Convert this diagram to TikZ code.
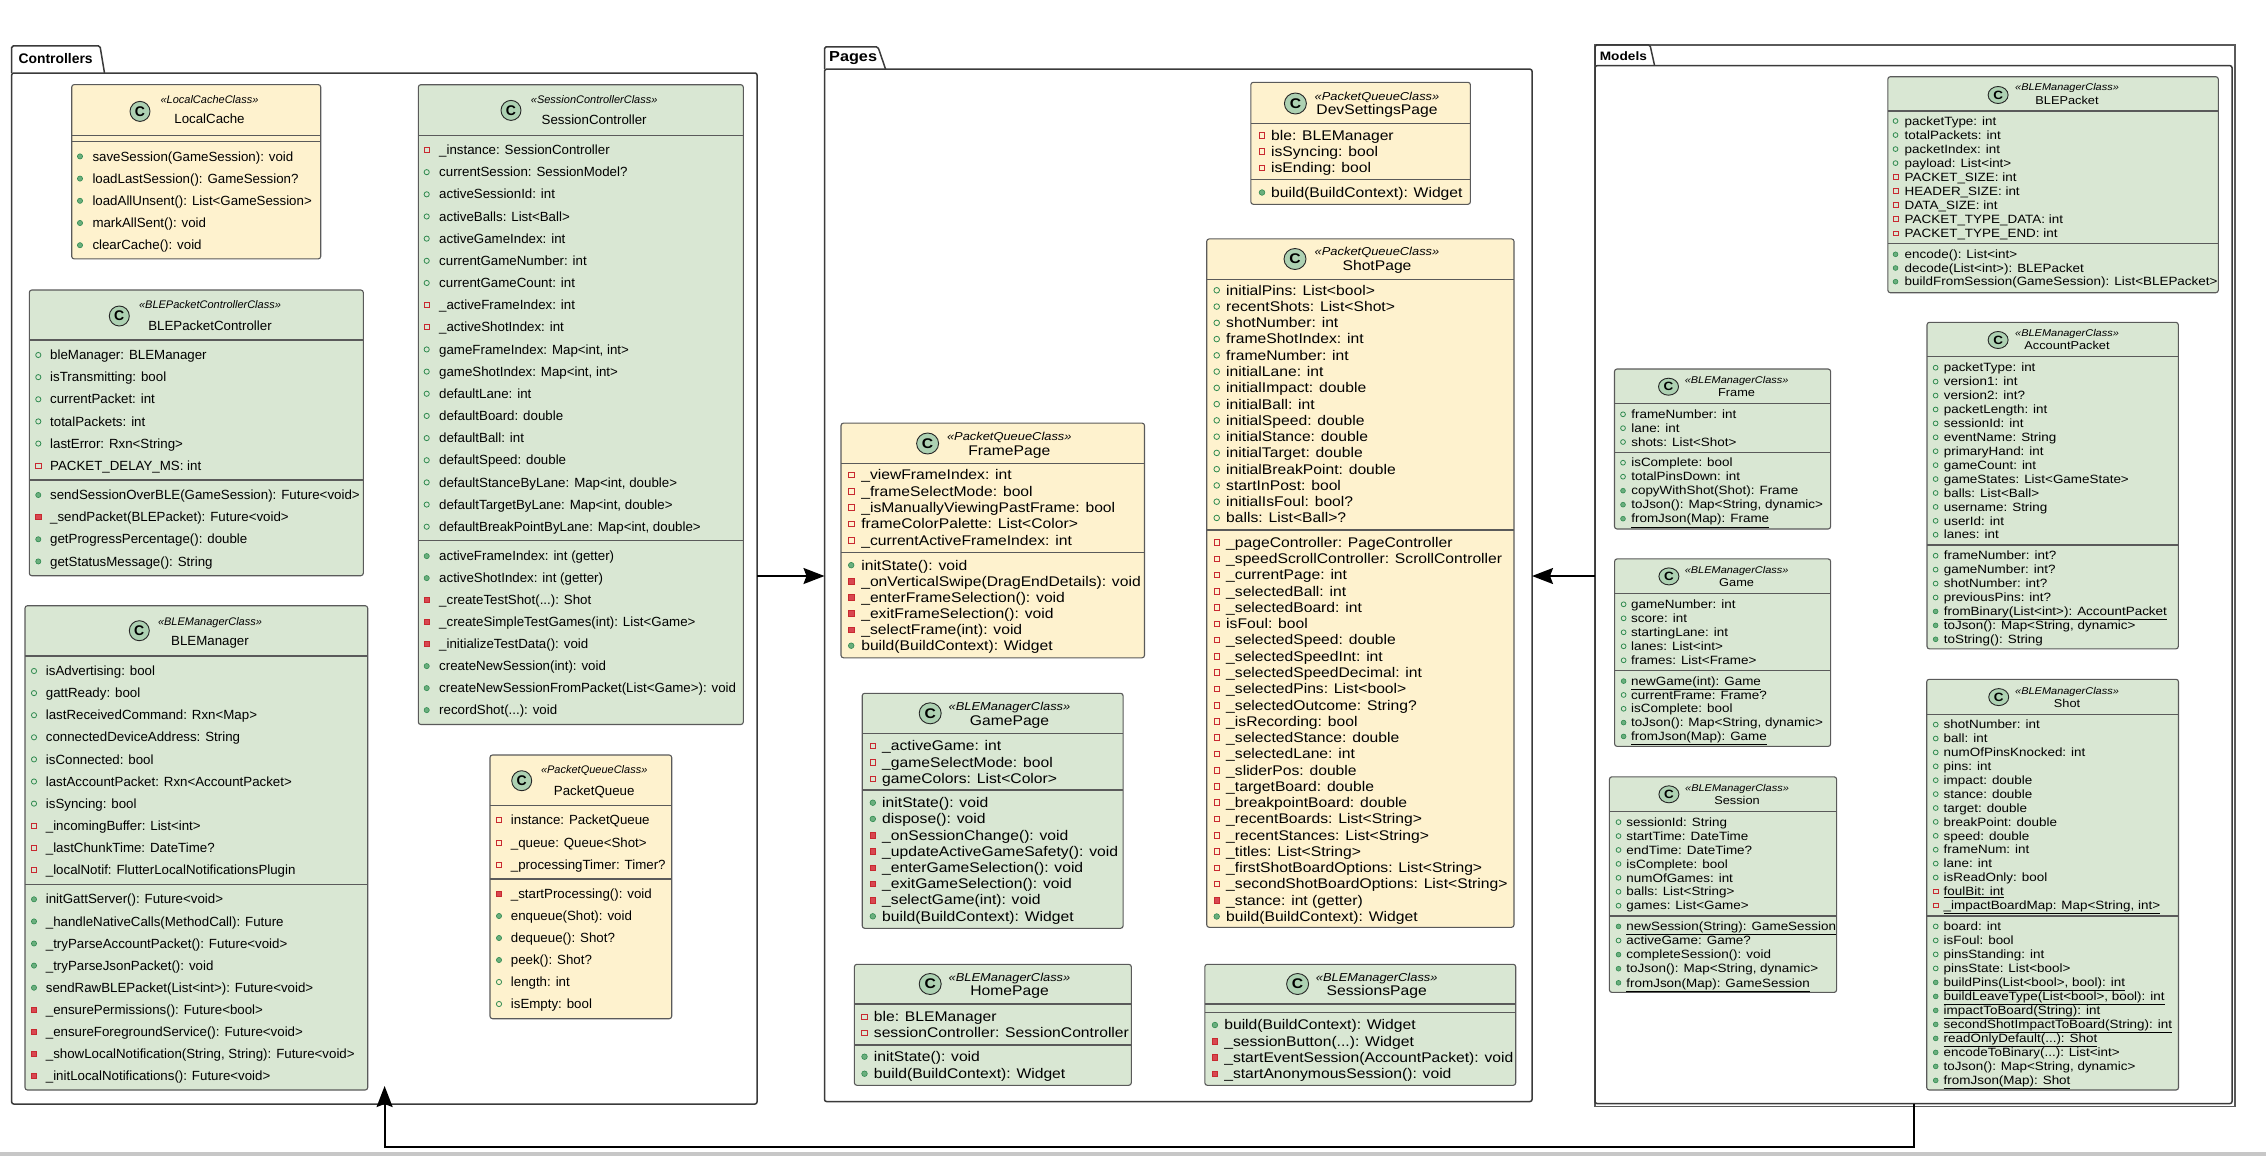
\documentclass[tikz,border=0pt]{standalone}
\usepackage{fontspec}
\setmainfont{Liberation Sans}
\newfontfamily\wf[FakeStretch=1.12]{Liberation Sans}
\usetikzlibrary{arrows.meta}
\definecolor{yel}{HTML}{FEF2CE}
\definecolor{grn}{HTML}{D9E7D3}
\definecolor{boxln}{HTML}{5A5A5A}
\definecolor{pkgln}{HTML}{3A3A3A}
\definecolor{spotfill}{HTML}{ADD1B2}
\definecolor{pubd}{HTML}{2F8A4F}
\definecolor{pubf}{HTML}{6BAF7E}
\definecolor{privd}{HTML}{C82930}
\definecolor{privf}{HTML}{D84750}
\newcounter{mc}
\tikzset{
  cboxst/.style={draw=boxln, line width=1.1pt, rounded corners=2.5pt, inner sep=0pt, outer sep=0pt},
  pkgbox/.style={draw=pkgln, line width=1.5pt, rounded corners=2pt, inner sep=0pt, outer sep=0pt},
  tabline/.style={draw=pkgln, line width=1.5pt, rounded corners=1.5pt},
  tablbl/.style={anchor=west, inner sep=0pt},
  sepl/.style={draw=boxln, line width=1.1pt},
  spot/.style={draw=black!85, fill=spotfill, line width=0.9pt},
  hd/.style={inner sep=0pt, text height=\mth, text depth=\mtd},
  mtext/.style={anchor=west, inner sep=0pt, text height=\mth, text depth=\mtd},
  ipo/.style={draw=pubd, line width=0.8pt},
  ipf/.style={draw=pubd, fill=pubf, line width=0.6pt},
  iro/.style={draw=privd, line width=0.8pt},
  irf/.style={draw=privd, fill=privf, line width=0.6pt},
  arr/.style={draw=black, line width=1.8pt, -{Stealth[length=21pt,width=16pt,inset=3pt]}},
}
\newcommand\umlbox[6]{%
  \pgfmathsetmacro\qcw{#5-#3}\pgfmathsetmacro\qch{#6-#4}%
  \node[cboxst, fill=#2, minimum width=\qcw pt, minimum height=\qch pt, anchor=north west] (#1) at (#3,#4) {};%
  \xdef\cxa{#3}\xdef\cxb{#5}}
\newcommand\csep[1]{\draw[sepl] (\cxa,#1) -- (\cxb,#1);}
\newcommand\chead[8]{%
  \draw[spot] (#2,#3) ellipse[x radius=\crx pt, y radius=\cry pt];%
  \node[inner sep=0pt, font=\Cfnt] (#1c) at (#2,#3) {C};%
  \node[hd, font=\sfnt] (#1s) at (#4,#5) {«#6»};%
  \node[hd, font=\nfnt] (#1n) at (#4,#7) {#8};}
\newcommand\memstart[4]{\xdef\mix{#1}\xdef\mtx{#2}\xdef\my{#3}\xdef\mdy{#4}}
\newcommand\icpo{\draw[ipo] (\mix,\my) circle[radius=\irad pt];}
\newcommand\icpf{\draw[ipf] (\mix,\my) circle[radius=\irad pt];}
\newcommand\qsq{\pgfmathsetmacro\qxa{\mix-\isz}\pgfmathsetmacro\qxb{\mix+\isz}\pgfmathsetmacro\qya{\my-\isz}\pgfmathsetmacro\qyb{\my+\isz}}
\newcommand\icro{\qsq\draw[iro] (\qxa,\qya) rectangle (\qxb,\qyb);}
\newcommand\icrf{\qsq\draw[irf] (\qxa,\qya) rectangle (\qxb,\qyb);}
\newcommand\mem[2]{%
  \stepcounter{mc}%
  \csname ic#1\endcsname
  \node[mtext, font=\mfnt] (m\arabic{mc}) at (\mtx,\my) {#2};%
  \pgfmathsetmacro\qty{\my+\mdy}\xdef\my{\qty}}
\begin{document}
\begin{tikzpicture}[x=1pt,y=-1pt]
\useasboundingbox (0,0) rectangle (2266,1156);
\fill[black!22] (0,1151.7) rectangle (2266,1156);

% ---------------- packages ----------------
\node[pkgbox, minimum width=745.3pt, minimum height=1031pt, anchor=north west] (ctrl) at (11.7,73) {};
\draw[tabline] (11.7,73) -- (11.7,46) -- (100,46) -- (104.5,73);
\node[tablbl, font=\fontsize{13.9}{16}\selectfont\bfseries] (ctrlL) at (18.3,58.6) {Controllers};

\node[pkgbox, minimum width=707.5pt, minimum height=1032.3pt, anchor=north west] (pages) at (824.5,69.2) {};
\draw[tabline] (824.5,69.2) -- (824.5,47) -- (878,47) -- (885.6,69.2);
\node[tablbl, font=\wf\fontsize{14.5}{16}\selectfont\bfseries] (pagesL) at (829,57.8) {Pages};

\draw[draw=boxln, line width=1.3pt] (1595,45) rectangle (2235,1106.7);
\node[pkgbox, minimum width=637pt, minimum height=1037.8pt, anchor=north west] (models) at (1595,65.7) {};
\draw[tabline] (1595,65.7) -- (1595,45) -- (1650,45) -- (1654.6,65.7);
\node[tablbl, font=\wf\fontsize{12.2}{14}\selectfont\bfseries] (modelsL) at (1599.6,55.7) {Models};

% ---------------- Controllers ----------------
\def\mfnt{\fontsize{13.3}{15}\selectfont}
\def\sfnt{\fontsize{11}{13}\selectfont\itshape}
\def\nfnt{\fontsize{13.3}{15}\selectfont}
\def\Cfnt{\fontsize{14}{16}\selectfont\bfseries}
\def\crx{10}\def\cry{10}\def\irad{2.6}\def\isz{2.6}
\def\mth{12.2pt}\def\mtd{2.9pt}

\umlbox{lc}{yel}{71.7}{84.6}{320.7}{258.9}
\chead{lc}{140}{111.4}{209.5}{98.9}{LocalCacheClass}{119.3}{LocalCache}
\csep{135.7}\csep{141.8}
\memstart{80}{92.3}{156.4}{22.2}
\mem{pf}{saveSession(GameSession): void}
\mem{pf}{loadLastSession(): GameSession?}
\mem{pf}{loadAllUnsent(): List<GameSession>}
\mem{pf}{markAllSent(): void}
\mem{pf}{clearCache(): void}

\umlbox{bpc}{grn}{29.3}{290}{363.3}{575.7}
\chead{bpc}{119.3}{316}{210}{304.3}{BLEPacketControllerClass}{325.7}{BLEPacketController}
\csep{340}
\memstart{38.3}{50}{355}{22.14}
\mem{po}{bleManager: BLEManager}
\mem{po}{isTransmitting: bool}
\mem{po}{currentPacket: int}
\mem{po}{totalPackets: int}
\mem{po}{lastError: Rxn<String>}
\mem{ro}{PACKET\_DELAY\_MS: int}
\csep{480}
\memstart{38.3}{50}{495}{22.14}
\mem{pf}{sendSessionOverBLE(GameSession): Future<void>}
\mem{rf}{\_sendPacket(BLEPacket): Future<void>}
\mem{pf}{getProgressPercentage(): double}
\mem{pf}{getStatusMessage(): String}

\umlbox{blem}{grn}{25}{605.7}{367.7}{1090}
\chead{blem}{139.3}{630.7}{210}{620.7}{BLEManagerClass}{641}{BLEManager}
\csep{656}
\memstart{34}{45.7}{671}{22.1}
\mem{po}{isAdvertising: bool}
\mem{po}{gattReady: bool}
\mem{po}{lastReceivedCommand: Rxn<Map>}
\mem{po}{connectedDeviceAddress: String}
\mem{po}{isConnected: bool}
\mem{po}{lastAccountPacket: Rxn<AccountPacket>}
\mem{po}{isSyncing: bool}
\mem{ro}{\_incomingBuffer: List<int>}
\mem{ro}{\_lastChunkTime: DateTime?}
\mem{ro}{\_localNotif: FlutterLocalNotificationsPlugin}
\csep{884.3}
\memstart{34}{45.7}{899.3}{22.1}
\mem{pf}{initGattServer(): Future<void>}
\mem{pf}{\_handleNativeCalls(MethodCall): Future}
\mem{pf}{\_tryParseAccountPacket(): Future<void>}
\mem{pf}{\_tryParseJsonPacket(): void}
\mem{pf}{sendRawBLEPacket(List<int>): Future<void>}
\mem{rf}{\_ensurePermissions(): Future<bool>}
\mem{rf}{\_ensureForegroundService(): Future<void>}
\mem{rf}{\_showLocalNotification(String, String): Future<void>}
\mem{rf}{\_initLocalNotifications(): Future<void>}

\umlbox{sc}{grn}{418.3}{84.7}{743.3}{724.5}
\chead{sc}{511}{110.4}{594.2}{98.6}{SessionControllerClass}{119.7}{SessionController}
\csep{135.2}
\memstart{426.7}{439}{150}{22.16}
\mem{ro}{\_instance: SessionController}
\mem{po}{currentSession: SessionModel?}
\mem{po}{activeSessionId: int}
\mem{po}{activeBalls: List<Ball>}
\mem{po}{activeGameIndex: int}
\mem{po}{currentGameNumber: int}
\mem{po}{currentGameCount: int}
\mem{ro}{\_activeFrameIndex: int}
\mem{ro}{\_activeShotIndex: int}
\mem{po}{gameFrameIndex: Map<int, int>}
\mem{po}{gameShotIndex: Map<int, int>}
\mem{po}{defaultLane: int}
\mem{po}{defaultBoard: double}
\mem{po}{defaultBall: int}
\mem{po}{defaultSpeed: double}
\mem{po}{defaultStanceByLane: Map<int, double>}
\mem{po}{defaultTargetByLane: Map<int, double>}
\mem{po}{defaultBreakPointByLane: Map<int, double>}
\csep{540.6}
\memstart{426.7}{439}{556.1}{22.0}
\mem{pf}{activeFrameIndex: int (getter)}
\mem{pf}{activeShotIndex: int (getter)}
\mem{rf}{\_createTestShot(...): Shot}
\mem{rf}{\_createSimpleTestGames(int): List<Game>}
\mem{rf}{\_initializeTestData(): void}
\mem{pf}{createNewSession(int): void}
\mem{pf}{createNewSessionFromPacket(List<Game>): void}
\mem{pf}{recordShot(...): void}

\umlbox{pq}{yel}{490}{755}{671.7}{1018.7}
\chead{pq}{521.7}{780.7}{594.2}{769.3}{PacketQueueClass}{790.7}{PacketQueue}
\csep{805.7}
\memstart{499}{510.7}{820}{22.5}
\mem{ro}{instance: PacketQueue}
\mem{ro}{\_queue: Queue<Shot>}
\mem{ro}{\_processingTimer: Timer?}
\csep{879}
\memstart{499}{510.7}{894}{22}
\mem{rf}{\_startProcessing(): void}
\mem{pf}{enqueue(Shot): void}
\mem{pf}{dequeue(): Shot?}
\mem{pf}{peek(): Shot?}
\mem{po}{length: int}
\mem{po}{isEmpty: bool}

% ---------------- Pages ----------------
\def\mfnt{\wf\fontsize{14}{16}\selectfont}
\def\sfnt{\wf\fontsize{11.5}{13}\selectfont\itshape}
\def\nfnt{\wf\fontsize{14}{16}\selectfont}
\def\Cfnt{\wf\fontsize{14}{16}\selectfont\bfseries}
\def\crx{11}\def\cry{10.5}\def\irad{2.8}\def\isz{2.8}
\def\mth{12.9pt}\def\mtd{3.1pt}

\umlbox{dsp}{yel}{1250.8}{82.3}{1470.4}{204.3}
\chead{dsp}{1295.4}{103.5}{1377}{95.3}{PacketQueueClass}{109.6}{DevSettingsPage}
\csep{123.1}
\memstart{1262}{1270.9}{135.3}{16.2}
\mem{ro}{ble: BLEManager}
\mem{ro}{isSyncing: bool}
\mem{ro}{isEnding: bool}
\csep{179.8}
\memstart{1262}{1270.9}{192.5}{16.2}
\mem{pf}{build(BuildContext): Widget}

\umlbox{fp}{yel}{841}{423.1}{1144.5}{657.8}
\chead{fp}{927.6}{443.5}{1009.3}{435.3}{PacketQueueClass}{450.4}{FramePage}
\csep{463.5}
\memstart{851.2}{861.1}{475}{16.3}
\mem{ro}{\_viewFrameIndex: int}
\mem{ro}{\_frameSelectMode: bool}
\mem{ro}{\_isManuallyViewingPastFrame: bool}
\mem{ro}{frameColorPalette: List<Color>}
\mem{ro}{\_currentActiveFrameIndex: int}
\csep{552.5}
\memstart{851.2}{861.1}{565.2}{16.1}
\mem{pf}{initState(): void}
\mem{rf}{\_onVerticalSwipe(DragEndDetails): void}
\mem{rf}{\_enterFrameSelection(): void}
\mem{rf}{\_exitFrameSelection(): void}
\mem{rf}{\_selectFrame(int): void}
\mem{pf}{build(BuildContext): Widget}

\umlbox{sp}{yel}{1206.7}{238.9}{1514}{927.3}
\chead{sp}{1295}{259}{1377}{250.5}{PacketQueueClass}{265.7}{ShotPage}
\csep{279.1}
\memstart{1216.7}{1226}{290.3}{16.26}
\mem{po}{initialPins: List<bool>}
\mem{po}{recentShots: List<Shot>}
\mem{po}{shotNumber: int}
\mem{po}{frameShotIndex: int}
\mem{po}{frameNumber: int}
\mem{po}{initialLane: int}
\mem{po}{initialImpact: double}
\mem{po}{initialBall: int}
\mem{po}{initialSpeed: double}
\mem{po}{initialStance: double}
\mem{po}{initialTarget: double}
\mem{po}{initialBreakPoint: double}
\mem{po}{startInPost: bool}
\mem{po}{initialIsFoul: bool?}
\mem{po}{balls: List<Ball>?}
\csep{530}
\memstart{1216.7}{1226}{542.5}{16.26}
\mem{ro}{\_pageController: PageController}
\mem{ro}{\_speedScrollController: ScrollController}
\mem{ro}{\_currentPage: int}
\mem{ro}{\_selectedBall: int}
\mem{ro}{\_selectedBoard: int}
\mem{ro}{isFoul: bool}
\mem{ro}{\_selectedSpeed: double}
\mem{ro}{\_selectedSpeedInt: int}
\mem{ro}{\_selectedSpeedDecimal: int}
\mem{ro}{\_selectedPins: List<bool>}
\mem{ro}{\_selectedOutcome: String?}
\mem{ro}{\_isRecording: bool}
\mem{ro}{\_selectedStance: double}
\mem{ro}{\_selectedLane: int}
\mem{ro}{\_sliderPos: double}
\mem{ro}{\_targetBoard: double}
\mem{ro}{\_breakpointBoard: double}
\mem{ro}{\_recentBoards: List<String>}
\mem{ro}{\_recentStances: List<String>}
\mem{ro}{\_titles: List<String>}
\mem{ro}{\_firstShotBoardOptions: List<String>}
\mem{ro}{\_secondShotBoardOptions: List<String>}
\mem{rf}{\_stance: int (getter)}
\mem{pf}{build(BuildContext): Widget}

\umlbox{gp}{grn}{862.2}{693.3}{1123.1}{928.3}
\chead{gp}{930.2}{713.3}{1009.5}{705.7}{BLEManagerClass}{720.7}{GamePage}
\csep{733.3}
\memstart{872.8}{882}{745.7}{16.5}
\mem{ro}{\_activeGame: int}
\mem{ro}{\_gameSelectMode: bool}
\mem{ro}{gameColors: List<Color>}
\csep{790}
\memstart{872.8}{882}{802.7}{16.23}
\mem{pf}{initState(): void}
\mem{pf}{dispose(): void}
\mem{rf}{\_onSessionChange(): void}
\mem{rf}{\_updateActiveGameSafety(): void}
\mem{rf}{\_enterGameSelection(): void}
\mem{rf}{\_exitGameSelection(): void}
\mem{rf}{\_selectGame(int): void}
\mem{pf}{build(BuildContext): Widget}

\umlbox{hp}{grn}{854.4}{964.3}{1131.3}{1085.3}
\chead{hp}{930.2}{984}{1009.5}{976.7}{BLEManagerClass}{991}{HomePage}
\csep{1004}
\memstart{864.5}{873.7}{1016.7}{16}
\mem{ro}{ble: BLEManager}
\mem{ro}{sessionController: SessionController}
\csep{1045}
\memstart{864.5}{873.7}{1056.7}{17}
\mem{pf}{initState(): void}
\mem{pf}{build(BuildContext): Widget}

\umlbox{ssp}{grn}{1204.8}{964.3}{1515.7}{1085.3}
\chead{ssp}{1297.6}{984}{1376.7}{976.7}{BLEManagerClass}{991}{SessionsPage}
\csep{1004}\csep{1012.3}
\memstart{1214.9}{1224.1}{1025}{16.2}
\mem{pf}{build(BuildContext): Widget}
\mem{rf}{\_sessionButton(...): Widget}
\mem{rf}{\_startEventSession(AccountPacket): void}
\mem{rf}{\_startAnonymousSession(): void}

% ---------------- Models ----------------
\def\mfnt{\wf\fontsize{12}{14}\selectfont}
\def\sfnt{\wf\fontsize{9.8}{12}\selectfont\itshape}
\def\nfnt{\wf\fontsize{11.4}{13}\selectfont}
\def\Cfnt{\wf\fontsize{12}{14}\selectfont\bfseries}
\def\crx{10}\def\cry{8.5}\def\irad{2.4}\def\isz{2.4}
\def\mth{11pt}\def\mtd{2.6pt}

\umlbox{blp}{grn}{1887.8}{76.7}{2218.3}{292.7}
\chead{blp}{1998.1}{95}{2067}{86.7}{BLEManagerClass}{100}{BLEPacket}
\csep{111}
\memstart{1895.5}{1904.5}{121}{14.04}
\mem{po}{packetType: int}
\mem{po}{totalPackets: int}
\mem{po}{packetIndex: int}
\mem{po}{payload: List<int>}
\mem{ro}{PACKET\_SIZE: int}
\mem{ro}{HEADER\_SIZE: int}
\mem{ro}{DATA\_SIZE: int}
\mem{ro}{PACKET\_TYPE\_DATA: int}
\mem{ro}{PACKET\_TYPE\_END: int}
\csep{243.3}
\memstart{1895.5}{1904.5}{254.3}{13.7}
\mem{pf}{encode(): List<int>}
\mem{pf}{decode(List<int>): BLEPacket}
\mem{pf}{buildFromSession(GameSession): List<BLEPacket>}

\umlbox{fr}{grn}{1614.5}{369}{1830.6}{529}
\chead{fr}{1668.5}{386.7}{1736.6}{379.3}{BLEManagerClass}{392}{Frame}
\csep{403.3}
\memstart{1623}{1631.1}{414.3}{13.85}
\mem{po}{frameNumber: int}
\mem{po}{lane: int}
\mem{po}{shots: List<Shot>}
\csep{452.3}
\memstart{1623}{1631.1}{462.7}{14}
\mem{po}{isComplete: bool}
\mem{po}{totalPinsDown: int}
\mem{pf}{copyWithShot(Shot): Frame}
\mem{pf}{toJson(): Map<String, dynamic>}
\mem{pf}{\underline{fromJson(Map): Frame}}

\umlbox{ap}{grn}{1927}{322.3}{2178.3}{648.9}
\chead{ap}{1998.1}{340}{2067}{332.7}{BLEManagerClass}{345.3}{AccountPacket}
\csep{356.7}
\memstart{1935.6}{1943.6}{367.7}{13.92}
\mem{po}{packetType: int}
\mem{po}{version1: int}
\mem{po}{version2: int?}
\mem{po}{packetLength: int}
\mem{po}{sessionId: int}
\mem{po}{eventName: String}
\mem{po}{primaryHand: int}
\mem{po}{gameCount: int}
\mem{po}{gameStates: List<GameState>}
\mem{po}{balls: List<Ball>}
\mem{po}{username: String}
\mem{po}{userId: int}
\mem{po}{lanes: int}
\csep{545}
\memstart{1935.6}{1943.6}{555.7}{13.93}
\mem{po}{frameNumber: int?}
\mem{po}{gameNumber: int?}
\mem{po}{shotNumber: int?}
\mem{po}{previousPins: int?}
\mem{pf}{\underline{fromBinary(List<int>): AccountPacket}}
\mem{pf}{toJson(): Map<String, dynamic>}
\mem{pf}{toString(): String}

\umlbox{gm}{grn}{1614.6}{558.9}{1830.6}{746.4}
\chead{gm}{1668.9}{576.4}{1736.6}{569.3}{BLEManagerClass}{582.1}{Game}
\csep{593.6}
\memstart{1623.6}{1631}{604.3}{14}
\mem{po}{gameNumber: int}
\mem{po}{score: int}
\mem{po}{startingLane: int}
\mem{po}{lanes: List<int>}
\mem{po}{frames: List<Frame>}
\csep{670.7}
\memstart{1623.6}{1631}{681.1}{13.83}
\mem{pf}{\underline{newGame(int): Game}}
\mem{po}{currentFrame: Frame?}
\mem{po}{isComplete: bool}
\mem{pf}{toJson(): Map<String, dynamic>}
\mem{pf}{\underline{fromJson(Map): Game}}

\umlbox{ses}{grn}{1609.4}{776.8}{1836.6}{992.4}
\chead{ses}{1668.9}{794.3}{1737}{787.1}{BLEManagerClass}{800}{Session}
\csep{811.4}
\memstart{1618.5}{1626.2}{822.1}{13.93}
\mem{po}{sessionId: String}
\mem{po}{startTime: DateTime}
\mem{po}{endTime: DateTime?}
\mem{po}{isComplete: bool}
\mem{po}{numOfGames: int}
\mem{po}{balls: List<String>}
\mem{po}{games: List<Game>}
\csep{916}
\memstart{1618.5}{1626.2}{926.4}{14.1}
\mem{pf}{\underline{newSession(String): GameSession}}
\mem{po}{activeGame: Game?}
\mem{pf}{completeSession(): void}
\mem{pf}{toJson(): Map<String, dynamic>}
\mem{pf}{\underline{fromJson(Map): GameSession}}

\umlbox{sh}{grn}{1926.7}{679.3}{2178.5}{1090}
\chead{sh}{1998.7}{697.1}{2067}{690}{BLEManagerClass}{702.8}{Shot}
\csep{714.3}
\memstart{1935.7}{1943.5}{724.6}{13.9}
\mem{po}{shotNumber: int}
\mem{po}{ball: int}
\mem{po}{numOfPinsKnocked: int}
\mem{po}{pins: int}
\mem{po}{impact: double}
\mem{po}{stance: double}
\mem{po}{target: double}
\mem{po}{breakPoint: double}
\mem{po}{speed: double}
\mem{po}{frameNum: int}
\mem{po}{lane: int}
\mem{po}{isReadOnly: bool}
\mem{ro}{\underline{foulBit: int}}
\mem{ro}{\underline{\_impactBoardMap: Map<String, int>}}
\csep{916}
\memstart{1935.7}{1943.5}{926.4}{14}
\mem{po}{board: int}
\mem{po}{isFoul: bool}
\mem{po}{pinsStanding: int}
\mem{po}{pinsState: List<bool>}
\mem{pf}{\underline{buildPins(List<bool>, bool): int}}
\mem{pf}{\underline{buildLeaveType(List<bool>, bool): int}}
\mem{pf}{\underline{impactToBoard(String): int}}
\mem{pf}{\underline{secondShotImpactToBoard(String): int}}
\mem{pf}{\underline{readOnlyDefault(...): Shot}}
\mem{pf}{encodeToBinary(...): List<int>}
\mem{pf}{toJson(): Map<String, dynamic>}
\mem{pf}{\underline{fromJson(Map): Shot}}

% ---------------- connectors ----------------
\coordinate (ay) at (0,576);
\coordinate (bx) at (1914,0);
\coordinate (by) at (0,1146.7);
\coordinate (ctip) at (384.6,1086);
\draw[arr] (ctrl.east |- ay) -- (pages.west |- ay);
\draw[arr] (models.west |- ay) -- (pages.east |- ay);
\draw[arr] (models.south -| bx) -- (bx |- by) -- (ctip |- by) -- (ctip);
\end{tikzpicture}
\end{document}
